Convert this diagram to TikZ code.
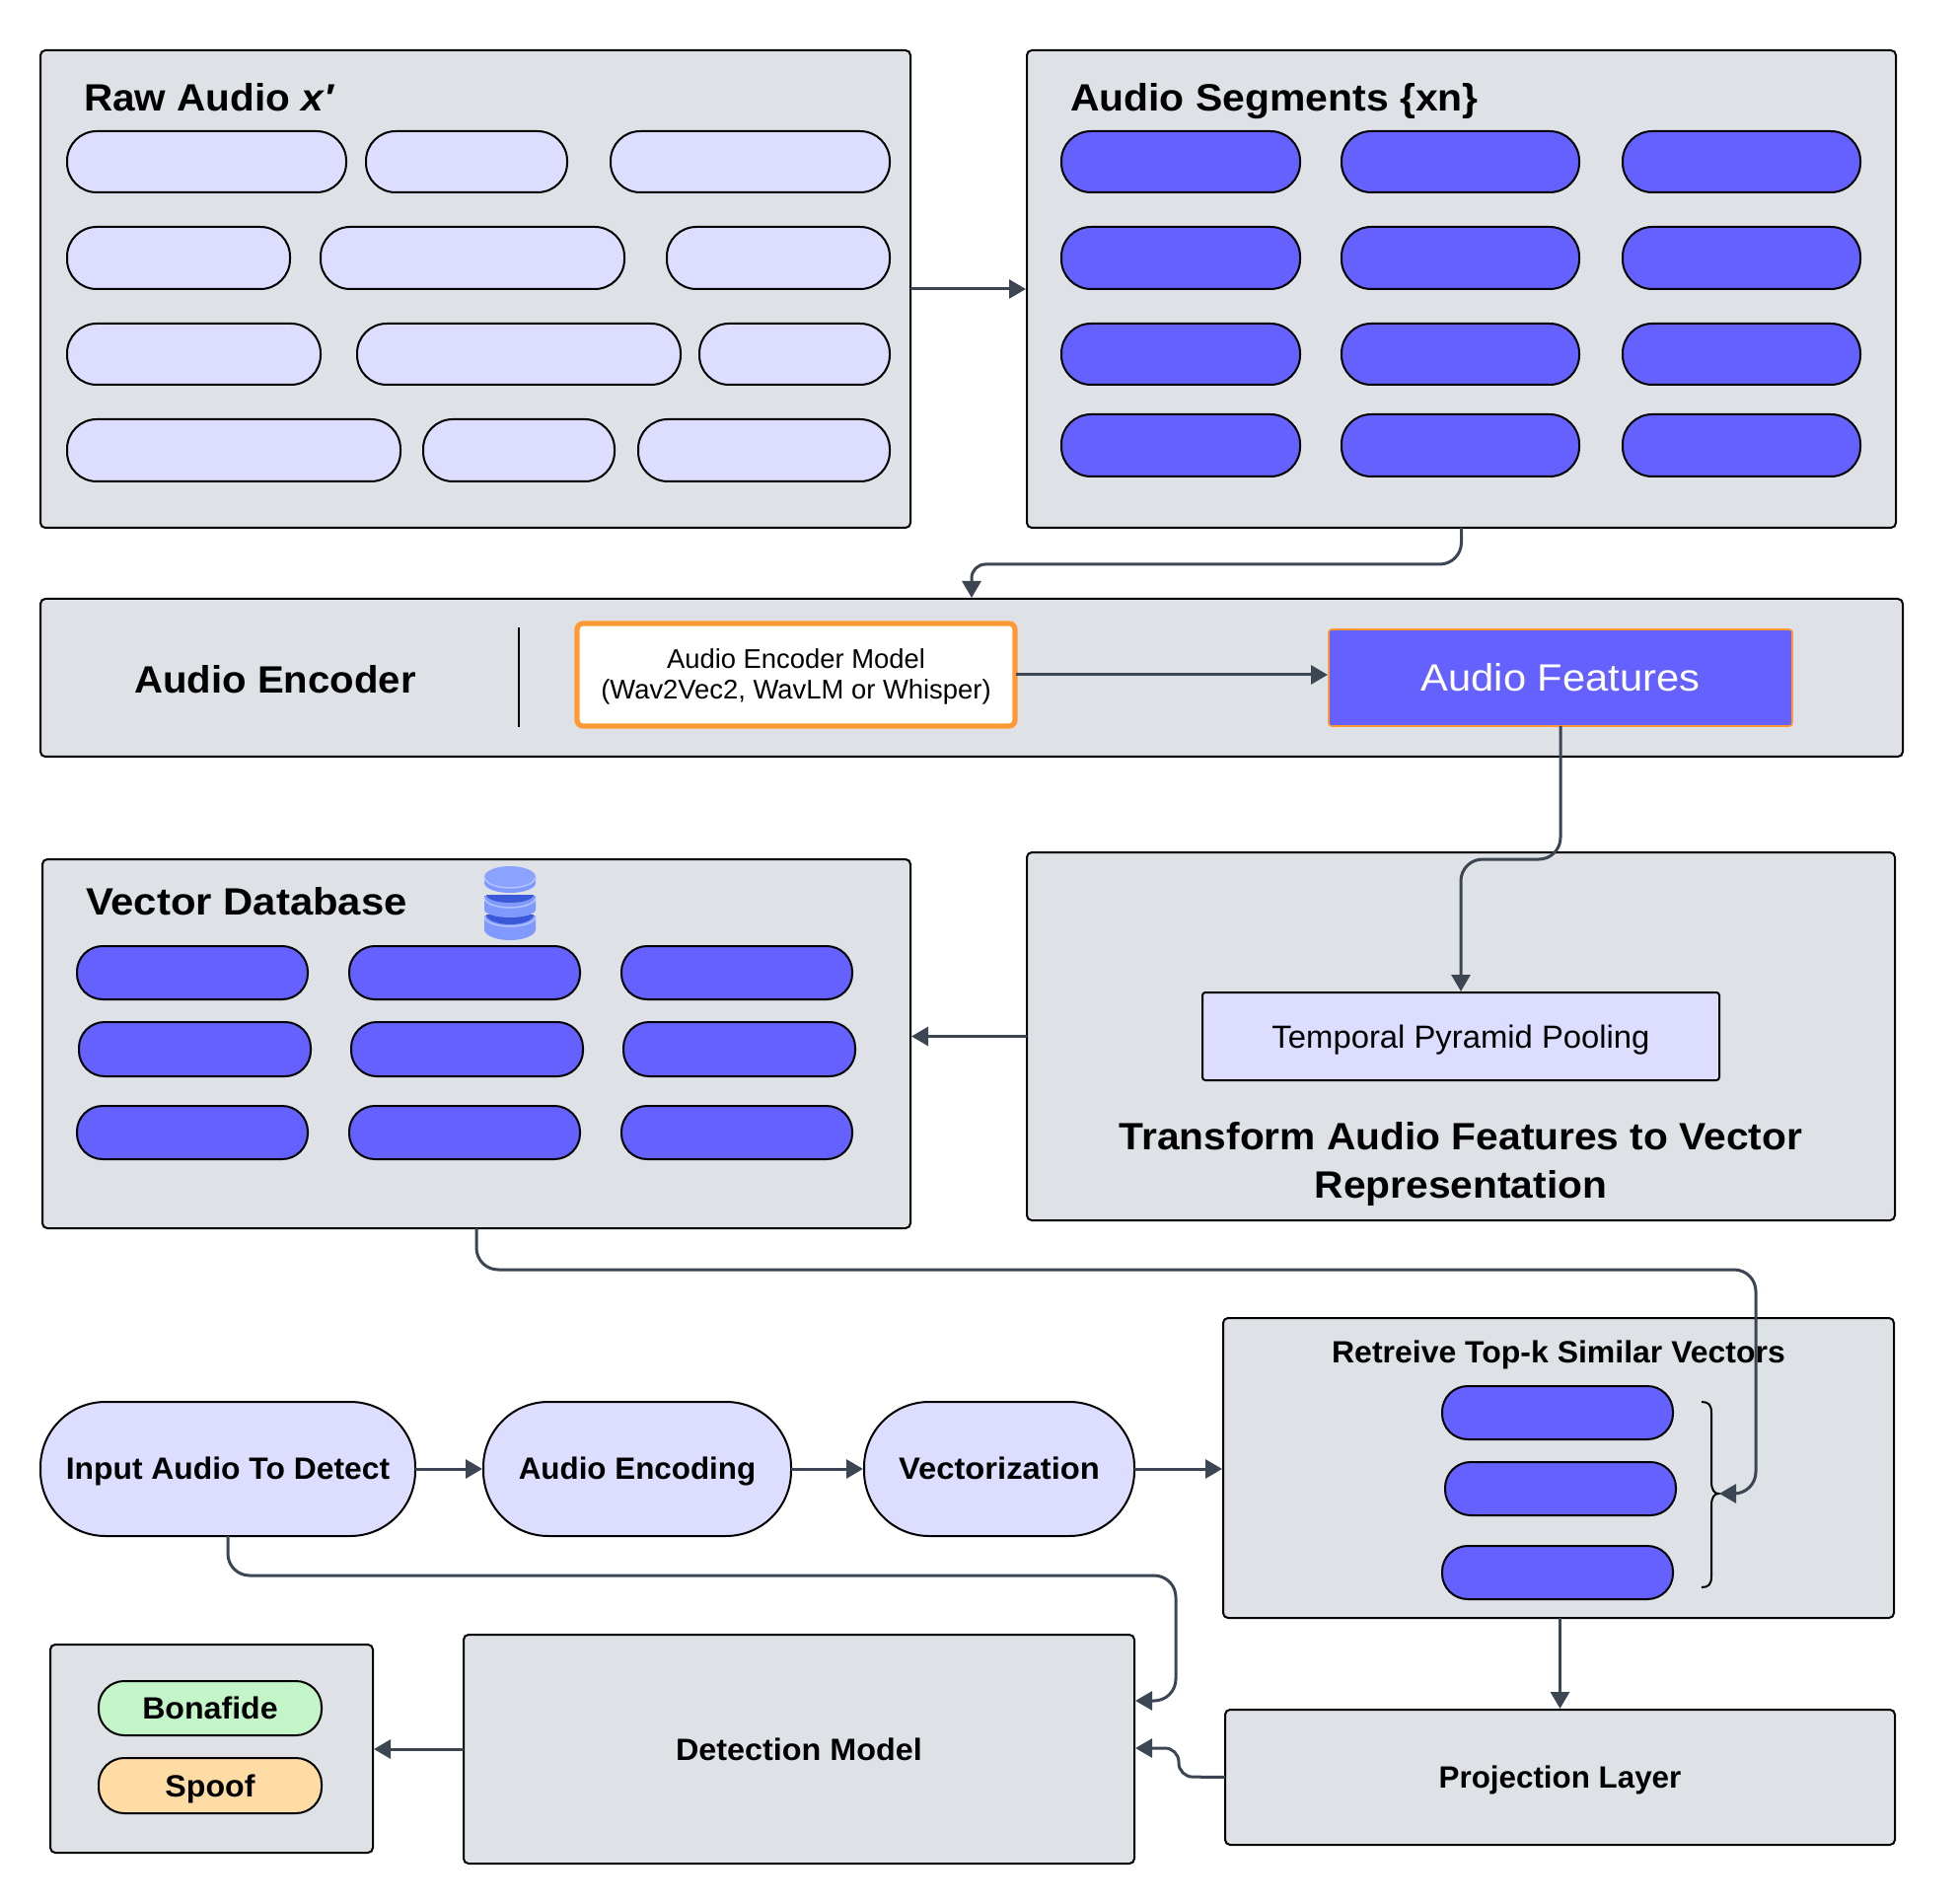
\documentclass[tikz,border=0pt]{standalone}
\usepackage{fontspec}
\setmainfont{Liberation Sans}
\usetikzlibrary{arrows.meta}
\definecolor{panel}{HTML}{DEE2E6}
\definecolor{lav}{HTML}{DDDDFF}
\definecolor{indigo}{HTML}{6461FF}
\definecolor{orangeb}{HTML}{FF9933}
\definecolor{conncol}{HTML}{3C4652}
\definecolor{greenf}{HTML}{C3F5C8}
\definecolor{yellowf}{HTML}{FFDCA3}
\definecolor{dbmain}{HTML}{7F99FF}
\definecolor{dbtop}{HTML}{8CA2FF}
\definecolor{dbrim}{HTML}{B8C6FF}
\definecolor{dbdark}{HTML}{3A58D8}
\newcommand{\fz}[2]{\fontsize{#1}{1.2em}\selectfont\addfontfeature{FakeStretch=#2}}
\newcommand{\stt}{\rule[-0.3em]{0pt}{1.32em}}
\newcommand{\sttb}{\rule[-0.3em]{0pt}{1.26em}}
\tikzset{
  x=0.5pt,y=-0.5pt,
  base/.style={draw=black,line width=1pt,inner sep=0pt,outer sep=0pt,align=center,text=black},
  panelbox/.style={base,fill=panel,rounded corners=2.5pt},
  wide/.style={base,fill=lav,rounded corners=33pt},
  pillb/.style={base,fill=indigo,rounded corners=13pt},
  pilll/.style={base,fill=lav,rounded corners=15pt},
  pilli/.style={base,fill=indigo,rounded corners=15pt},
  tag/.style={base,fill=#1,rounded corners=13pt},
  titlet/.style={inner sep=0pt,outer sep=0pt,align=center,text=black},
  conn/.style={draw=conncol,line width=1.5pt,rounded corners=11pt,shorten >=0.5pt,-{Triangle[length=8.5pt,width=9.5pt]}},
}
\newcommand{\bx}[7][panelbox]{%
  \pgfmathsetmacro\bxw{(#5-#3)*0.5}\pgfmathsetmacro\bxh{(#6-#4)*0.5}%
  \node[#1,minimum width=\bxw pt,minimum height=\bxh pt] (#2) at ({(#3+#5)/2},{(#4+#6)/2}) {#7};}
% one slab of the database icon: side top, side bottom, bottom bulge
\newcommand{\dbdisc}[3]{%
  \fill[dbmain] (491,#1) -- (491,#2) arc[x radius=26,y radius=#3,start angle=180,end angle=0] -- (543,#1) -- cycle;}
\newcommand{\dbrimline}[2]{%
  \draw[dbrim,line width=0.7pt] (491,#1) arc[x radius=26,y radius=#2,start angle=180,end angle=0];}
\newcommand{\dbband}[2]{%
  \fill[dbdark] (493,#1) arc[x radius=24,y radius=#2,start angle=180,end angle=0] -- cycle;}
\begin{document}
\begin{tikzpicture}
\useasboundingbox (0,0) rectangle (1986,1930);
% panels
\bx{raw}{41}{51}{923}{535}{}
\bx{seg}{1041}{51}{1922}{535}{}
\bx{enc}{41}{607}{1929}{767}{}
\bx{vdb}{43}{871}{923}{1245}{}
\bx{trf}{1041}{864}{1921}{1237}{}
\bx{ret}{1240}{1336}{1920}{1640}{}
\bx{det}{470}{1657}{1150}{1889}{\fz{15.6}{1.037}\bfseries\stt Detection Model}
\bx{prj}{1242}{1733}{1921}{1870}{\fz{15.6}{1.005}\bfseries\stt Projection Layer}
\bx{res}{51}{1667}{378}{1878}{}
% titles
\node[titlet,anchor=west] (traw) at (85,99) {\fz{19.3}{1.05}\bfseries\stt Raw Audio \textit{x′}};
\node[titlet,anchor=west] (tseg) at (1085,99) {\fz{19.3}{1.06}\bfseries\stt Audio Segments \{xn\}};
\node[titlet] (tenc) at (279,689) {\fz{19.3}{1.04}\bfseries\stt Audio Encoder};
\node[titlet,anchor=west] (tvdb) at (87,914) {\fz{19.3}{1.085}\bfseries\stt Vector Database};
\node[titlet,font={\fontsize{19.3}{24.2}\selectfont\addfontfeature{FakeStretch=1.055}\bfseries}] (ttrf) at (1481,1180) {Transform Audio Features to Vector\\Representation};
\node[titlet] (tret) at (1580,1370) {\fz{15.6}{1.025}\bfseries\stt Retreive Top-k Similar Vectors};
% raw pills
\bx[pilll]{ra}{68}{133}{351}{195}{}
\bx[pilll]{rb}{371}{133}{575}{195}{}
\bx[pilll]{rc}{619}{133}{902}{195}{}
\bx[pilll]{rd}{68}{230}{294}{293}{}
\bx[pilll]{re}{325}{230}{633}{293}{}
\bx[pilll]{rf}{676}{230}{902}{293}{}
\bx[pilll]{rg}{68}{328}{325}{390}{}
\bx[pilll]{rh}{362}{328}{690}{390}{}
\bx[pilll]{ri}{709}{328}{902}{390}{}
\bx[pilll]{rj}{68}{425}{406}{488}{}
\bx[pilll]{rk}{429}{425}{623}{488}{}
\bx[pilll]{rl}{647}{425}{902}{488}{}
% segment pills
\bx[pilli]{sa}{1076}{133}{1318}{195}{}
\bx[pilli]{sb}{1360}{133}{1601}{195}{}
\bx[pilli]{sc}{1645}{133}{1886}{195}{}
\bx[pilli]{sd}{1076}{230}{1318}{293}{}
\bx[pilli]{se}{1360}{230}{1601}{293}{}
\bx[pilli]{sf}{1645}{230}{1886}{293}{}
\bx[pilli]{sg}{1076}{328}{1318}{390}{}
\bx[pilli]{sh}{1360}{328}{1601}{390}{}
\bx[pilli]{si}{1645}{328}{1886}{390}{}
\bx[pilli]{sj}{1076}{420}{1318}{483}{}
\bx[pilli]{sk}{1360}{420}{1601}{483}{}
\bx[pilli]{sl}{1645}{420}{1886}{483}{}
% encoder
\draw[black,line width=1pt] (526,636) -- (526,737);
\bx[base,fill=white,draw=orangeb,line width=2.6pt,rounded corners=3pt]{model}{585}{632}{1029}{736}{}
\node[titlet,font={\fontsize{13.7}{15.9}\selectfont}] (tmodel) at (807,686) {Audio Encoder Model\\(Wav2Vec2, WavLM or Whisper)};
\bx[base,fill=indigo,draw=orangeb,line width=0.8pt,rounded corners=1.5pt,text=white]{feat}{1347}{638}{1817}{736}{\fz{19.3}{1.08}\stt Audio Features}
% vector db pills
\bx[pillb]{va}{78}{959}{312}{1013}{}
\bx[pillb]{vb}{354}{959}{588}{1013}{}
\bx[pillb]{vc}{630}{959}{864}{1013}{}
\bx[pillb]{vd}{80}{1036}{315}{1091}{}
\bx[pillb]{ve}{356}{1036}{591}{1091}{}
\bx[pillb]{vf}{632}{1036}{867}{1091}{}
\bx[pillb]{vg}{78}{1121}{312}{1175}{}
\bx[pillb]{vh}{354}{1121}{588}{1175}{}
\bx[pillb]{vi}{630}{1121}{864}{1175}{}
% database icon
\dbdisc{928}{942}{11}
\dbband{927}{10}
\dbrimline{929}{10}
\dbdisc{908}{922}{8}
\dbband{907}{8}
\dbrimline{910}{10}
\dbdisc{889}{895}{10}
\fill[dbtop] (517,889) ellipse[x radius=26,y radius=11];
\dbrimline{889}{11}
% TPP
\bx[base,fill=lav,rounded corners=1.5pt]{tpp}{1219}{1006}{1743}{1095}{\fz{16.2}{1.013}\stt Temporal Pyramid Pooling}
% retrieved pills
\bx[pillb]{pa}{1462}{1405}{1696}{1459}{}
\bx[pillb]{pb}{1465}{1482}{1699}{1536}{}
\bx[pillb]{pc}{1462}{1567}{1696}{1621}{}
\coordinate (tip) at (1742,1514);
\draw[black,line width=1pt] (1725,1421) .. controls (1732,1421) and (1735,1424) .. (1735,1432) -- (1735,1502) .. controls (1735,1510) and (1738,1514) .. (tip) .. controls (1738,1514) and (1735,1518) .. (1735,1526) -- (1735,1598) .. controls (1735,1606) and (1732,1609) .. (1725,1609);
% flow pills
\bx[wide]{inp}{41}{1421}{421}{1557}{\fz{15.6}{1.02}\bfseries\sttb Input Audio To Detect}
\bx[wide]{aenc}{490}{1421}{802}{1557}{\fz{15.6}{1.005}\bfseries\sttb Audio Encoding}
\bx[wide]{vec}{876}{1421}{1150}{1557}{\fz{15.6}{1.05}\bfseries\sttb Vectorization}
% outputs
\bx[tag=greenf]{bon}{100}{1704}{326}{1759}{\fz{15.6}{1.03}\bfseries\stt Bonafide}
\bx[tag=yellowf]{spf}{100}{1782}{326}{1838}{\fz{15.6}{1.03}\bfseries\stt Spoof}
% bends
\coordinate (b1) at (985,572);
\coordinate (b2) at (1481,871);
\coordinate (b3) at (1780,1287);
\coordinate (b4) at (1192,1597);
\coordinate (b5) at (1195,1801);
\coordinate (b6) at (1195,1772);
\coordinate (b7) at (1192,1724);
% connectors
\draw[conn] (raw.east) -- (seg.west |- raw.east);
\draw[conn] (seg.south) -- (seg.south |- b1) [rounded corners=7pt] -- (b1) -- (b1 |- enc.north);
\draw[conn] (model.east) ++(1.3,0) -- (feat.west |- model.east);
\draw[conn] (feat.south) -- (feat.south |- b2) -- (b2) -- (b2 |- tpp.north);
\draw[conn] (trf.west |- tpp.west) -- (vdb.east |- tpp.west);
\draw[conn] (vdb.south) -- (vdb.south |- b3) -- (b3) -- (b3 |- tip) -- (tip);
\draw[conn] (inp.east) -- (aenc.west);
\draw[conn] (aenc.east) -- (vec.west);
\draw[conn] (vec.east) -- (ret.west |- vec.east);
\draw[conn] (inp.south) -- (inp.south |- b4) -- (b4) -- (b7) -- (det.east |- b7);
\draw[conn] (ret.south -| prj.north) -- (prj.north);
\draw[conn,rounded corners=7pt] (prj.west) -- (b5) -- (b6) -- (det.east |- b6);
\draw[conn] (det.west) -- (res.east |- det.west);
\end{tikzpicture}
\end{document}
